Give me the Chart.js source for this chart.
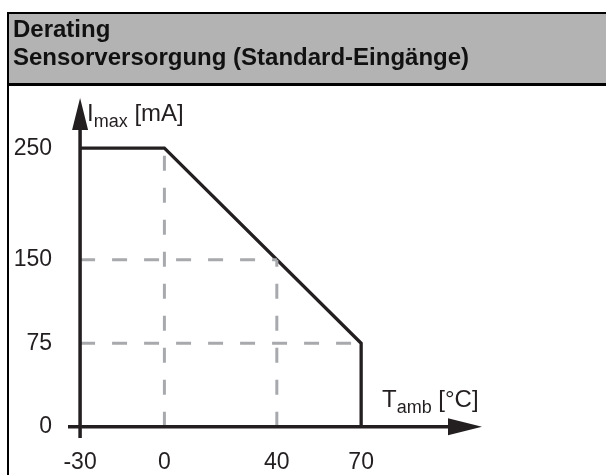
<!DOCTYPE html>
<html>
<head>
<meta charset="utf-8">
<script src="https://cdn.jsdelivr.net/npm/chart.js@4.4.1/dist/chart.umd.min.js"></script>
<style>
  html, body { margin: 0; padding: 0; background: #fff; }
</style>
</head>
<body>
<canvas id="deratingChart" width="606" height="475"></canvas>
<script>
  const titleLines = ['Derating', 'Sensorversorgung (Standard-Eingänge)'];

  // Kennlinie: Umgebungstemperatur [°C] -> max. Strom [mA]
  const tempC = [-30, 0, 70, 70];
  const currentMA = [250, 250, 75, 0];

  // gestrichelte Hilfslinien
  const guideX = [[0, 0], [40, 40], [-30, 40], [-30, 70]];
  const guideY = [[0, 250], [0, 150], [150, 150], [75, 75]];

  const xTicks = [-30, 0, 40, 70];
  const yTicks = [0, 75, 150, 250];
  const xLabel = ['T', 'amb', ' [°C]'];
  const yLabel = ['I', 'max', ' [mA]'];

  const INK = '#231f20';
  const FONT = '"Liberation Sans", Arial, sans-serif';
  Chart.defaults.font.family = FONT;

  // Rahmen, graue Kopfzeile und Überschrift
  const framePlugin = {
    id: 'frame',
    beforeDraw(chart) {
      const c = chart.ctx;
      c.save();
      c.fillStyle = '#fff';
      c.fillRect(0, 0, chart.width, chart.height);
      c.fillStyle = '#b3b3b3';
      c.fillRect(8, 13, chart.width, 71);
      c.strokeStyle = '#000';
      c.lineWidth = 2;
      c.beginPath();
      c.moveTo(8, chart.height);
      c.lineTo(8, 13);
      c.lineTo(chart.width, 13);
      c.stroke();
      c.lineWidth = 3;
      c.beginPath();
      c.moveTo(8, 84.5);
      c.lineTo(chart.width, 84.5);
      c.stroke();
      c.fillStyle = '#111';
      c.font = 'bold 24px ' + FONT;
      c.textBaseline = 'alphabetic';
      c.textAlign = 'left';
      titleLines.forEach((t, i) => c.fillText(t, 13, 37 + i * 28));
      c.restore();
    }
  };

  function drawSubLabel(c, parts, x, base) {
    c.textBaseline = 'alphabetic';
    c.textAlign = 'left';
    c.font = '24px ' + FONT;
    c.fillText(parts[0], x, base);
    x += c.measureText(parts[0]).width;
    c.font = '18px ' + FONT;
    c.fillText(parts[1], x, base + 6);
    x += c.measureText(parts[1]).width;
    c.font = '24px ' + FONT;
    c.fillText(parts[2], x, base);
  }

  // Achsen mit Pfeilen
  const axisPlugin = {
    id: 'arrowAxes',
    afterDatasetsDraw(chart) {
      const c = chart.ctx;
      const { x, y } = chart.scales;
      const x0 = x.getPixelForValue(xTicks[0]);
      const y0 = y.getPixelForValue(0);
      const left = x.getPixelForValue(x.min);
      const right = x.getPixelForValue(x.max);
      const top = y.getPixelForValue(y.max);
      const bottom = y.getPixelForValue(y.min);
      c.save();
      c.strokeStyle = INK;
      c.fillStyle = INK;
      c.lineWidth = 3.5;
      c.beginPath();
      c.moveTo(left, y0);
      c.lineTo(right - 30, y0);
      c.moveTo(x0, bottom);
      c.lineTo(x0, top + 28);
      c.stroke();
      c.beginPath();
      c.moveTo(right, y0);
      c.lineTo(right - 34, y0 - 8.5);
      c.lineTo(right - 34, y0 + 8.5);
      c.closePath();
      c.moveTo(x0, top);
      c.lineTo(x0 - 8, top + 32);
      c.lineTo(x0 + 8, top + 32);
      c.closePath();
      c.fill();
      drawSubLabel(c, yLabel, x0 + 7, top + 23);
      drawSubLabel(c, xLabel, right - 100, y0 - 20);
      c.restore();
    }
  };

  const datasets = guideX.map((gx, i) => ({
    data: gx.map((v, j) => ({ x: v, y: guideY[i][j] })),
    borderColor: '#a7a9ac',
    borderWidth: 3,
    borderDash: [15, 17],
    pointRadius: 0,
    fill: false
  }));
  datasets.push({
    data: tempC.map((t, i) => ({ x: t, y: currentMA[i] })),
    borderColor: INK,
    borderWidth: 3.3,
    borderJoinStyle: 'miter',
    pointRadius: 0,
    fill: false
  });

  const tickStyle = { color: INK, font: { size: 23 }, autoSkip: false, maxRotation: 0 };

  new Chart(document.getElementById('deratingChart'), {
    type: 'line',
    data: { datasets },
    options: {
      responsive: false,
      animation: false,
      events: [],
      layout: { padding: { left: 0, right: 124, top: 98, bottom: 0 } },
      plugins: {
        legend: { display: false },
        tooltip: { enabled: false },
        title: { display: false }
      },
      scales: {
        x: {
          type: 'linear',
          min: -34.3,
          max: 113,
          grid: { display: false, drawTicks: false },
          border: { display: false },
          afterBuildTicks: s => { s.ticks = xTicks.map(v => ({ value: v })); },
          afterFit: s => { s.height = 37; },
          ticks: Object.assign({ padding: 11, callback: v => String(v) }, tickStyle)
        },
        y: {
          type: 'linear',
          min: -10,
          max: 295,
          grid: { display: false, drawTicks: false },
          border: { display: false },
          afterBuildTicks: s => { s.ticks = yTicks.map(v => ({ value: v })); },
          afterFit: s => { s.width = 68; },
          ticks: Object.assign({ padding: 16, callback: v => String(v) }, tickStyle)
        }
      }
    },
    plugins: [framePlugin, axisPlugin]
  });
</script>
</body>
</html>
